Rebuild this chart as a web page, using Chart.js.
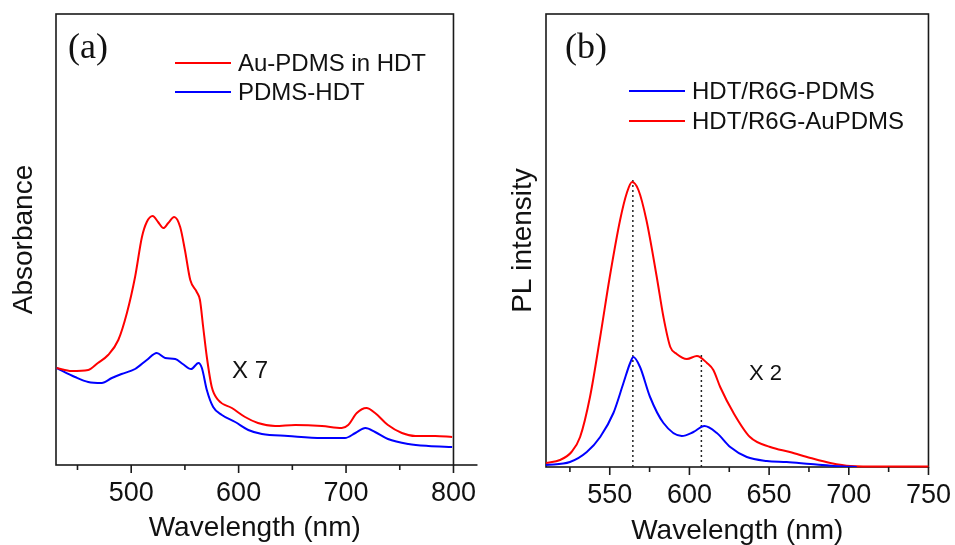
<!DOCTYPE html>
<html><head><meta charset="utf-8">
<script src="https://cdn.jsdelivr.net/npm/chart.js@4.4.1/dist/chart.umd.min.js"></script>
<style>
html,body{margin:0;padding:0;background:#fff;width:955px;height:545px;overflow:hidden}
#ca{position:absolute;left:0;top:0}
#cb{position:absolute;left:480px;top:0}
</style></head><body>
<canvas id="ca" width="488" height="545"></canvas>
<canvas id="cb" width="483" height="545"></canvas>
<script>
// ---------- Panel (a): absorbance (arbitrary units) ----------
const wlA_red = [430.6,444.6,460,469,478.5,488,496,503.6,510,514.5,520,525,530,534.5,540,545.6,550,555,561,564,567,570.4,575,581,593.7,606,618,634,652.7,677.6,696,702,710,719,727,739,752,764.6,783,798.8];
const absA_red = [97,94,95,102,110,125,152,188,228,243,249,243,237,242,248,238,215,185,173,165,138,108,78,65,57,48,42,39,40,39,37,40,52,57,52,40,32,29,29,28];
const wlA_blue = [430.6,447.7,460,472.6,482,491,503.6,514.5,523.8,531.6,541,548,555.8,562.6,565.8,570.4,576.3,584.4,596.8,609,621.7,646,677.6,699,708.7,718,727,739,758,776.7,798.8];
const absA_blue = [97,88,83,82,87,91,96,105,112,107,106,101,96,102,97,75,58,50,43,35,31,29,27,27,32,37,33,26,21,19,18];
const xMajorA = [500,600,700,800];
const xMinorA = [450,550,650,750];
const seriesA = ['Au-PDMS in HDT','PDMS-HDT'];

// ---------- Panel (b): PL intensity (arbitrary units) ----------
const wlB_blue = [510,525,535.6,544,552.3,558.6,562.8,564.8,569,575.3,583.7,595.2,602.5,609.4,617.2,625.6,636,648.6,661,676,696.6,705];
const plB_blue = [2,5,15,30,54,84,104,110,100,70,44,31,35,41,34,20,10,6,5,3,0.5,0];
const wlB_red = [510,518.8,526,531.4,537.6,544,550,556.5,560.7,564,568,573,579.5,583.7,588,592,598.4,604.7,611,615,619.3,627.7,638,650.7,663,676,688.4,701,720,750,767];
const plB_red = [4,7,15,30,70,130,190,247,274,285,277,247,190,150,120,113,108,111,104,97,80,54,30,20,15,9,4,1,0.5,0.5,0.5];
const peakLinesB = [564.5,607.5];
const peakLineTopsB = [290,114];
const xMajorB = [550,600,650,700,750];
const xMinorB = [525,575,625,675,725];
const seriesB = ['HDT/R6G-PDMS','HDT/R6G-AuPDMS'];

const SANS = "'Liberation Sans', Arial, sans-serif";
const SERIF = "'Liberation Serif', 'Times New Roman', serif";
const RED = '#ff0000', BLUE = '#0000ff', INK = '#111111';

const pts = (xs, ys) => xs.map((x, i) => ({x, y: ys[i]}));

function decor(cfg) {
  return {
    id: 'decor',
    beforeDatasetsDraw(chart) {
      const {ctx, chartArea: a} = chart;
      ctx.save();
      ctx.strokeStyle = '#1a1a1a';
      ctx.lineWidth = 1.6;
      ctx.strokeRect(a.left, a.top, a.right - a.left, a.bottom - a.top);
      if (cfg.extend) {
        ctx.beginPath(); ctx.moveTo(a.right, a.bottom); ctx.lineTo(a.right + cfg.extend, a.bottom); ctx.stroke();
      }
      ctx.restore();
    },
    afterDraw(chart) {
      const {ctx, chartArea: a, scales} = chart;
      const xs = scales.x;
      ctx.save();
      ctx.strokeStyle = '#1a1a1a';
      ctx.lineWidth = 1.6;
      cfg.major.forEach(v => { const p = xs.getPixelForValue(v); ctx.beginPath(); ctx.moveTo(p, a.bottom); ctx.lineTo(p, a.bottom + 8); ctx.stroke(); });
      cfg.minor.forEach(v => { const p = xs.getPixelForValue(v); ctx.beginPath(); ctx.moveTo(p, a.bottom); ctx.lineTo(p, a.bottom + 5); ctx.stroke(); });
      // legend
      cfg.legend.forEach((it, i) => {
        const y = cfg.legY[i];
        ctx.strokeStyle = it.color; ctx.lineWidth = 2;
        ctx.beginPath(); ctx.moveTo(cfg.legX0, y); ctx.lineTo(cfg.legX1, y); ctx.stroke();
        ctx.fillStyle = INK; ctx.font = '24px ' + SANS; ctx.textBaseline = 'middle'; ctx.textAlign = 'left';
        ctx.fillText(it.label, cfg.legX1 + 7, y + 1);
      });
      // panel label
      ctx.fillStyle = INK; ctx.textBaseline = 'alphabetic';
      ctx.font = '36px ' + SERIF;
      ctx.fillText(cfg.panel, cfg.panelX, 58);
      ctx.font = cfg.noteSize + 'px ' + SANS;
      ctx.fillText(cfg.note, cfg.noteX, cfg.noteY);
      ctx.restore();
    }
  };
}

function axisX(min, max, major, minor, h, titlePad) {
  const all = major.concat(minor).sort((p, q) => p - q);
  return {
    type: 'linear', min, max,
    afterBuildTicks(s) { s.ticks = all.map(v => ({value: v})); },
    afterFit(s) { s.height = h; },
    ticks: {autoSkip: false, maxRotation: 0, padding: 12, color: INK,
      font: {family: SANS, size: 27, lineHeight: 1.2},
      callback: v => major.includes(v) ? String(v) : ''},
    grid: {display: false, drawTicks: false},
    border: {display: false},
    title: {display: true, text: 'Wavelength (nm)', color: INK,
      font: {family: SANS, size: 28, lineHeight: 1}, padding: {top: 0, bottom: titlePad}}
  };
}
function axisY(max, w, text, pad) {
  return {
    min: 0, max,
    afterFit(s) { s.width = w; },
    ticks: {display: false},
    grid: {display: false, drawTicks: false},
    border: {display: false},
    title: {display: true, text, color: INK, font: {family: SANS, size: 28, lineHeight: 1.2}, padding: {top: pad, bottom: 0}}
  };
}
const lineDs = (label, data, color, extra) => Object.assign({
  label, data, borderColor: color, borderWidth: 2, pointRadius: 0,
  cubicInterpolationMode: 'monotone', fill: false
}, extra || {});

new Chart(document.getElementById('ca'), {
  type: 'line',
  data: {datasets: [
    lineDs(seriesA[0], pts(wlA_red, absA_red), RED),
    lineDs(seriesA[1], pts(wlA_blue, absA_blue), BLUE)
  ]},
  options: {
    responsive: false, animation: false, devicePixelRatio: 1, events: [],
    layout: {padding: {top: 14, right: 27, left: 0, bottom: 0}},
    scales: {x: axisX(430, 800, xMajorA, xMinorA, 80, 3), y: axisY(451, 56, 'Absorbance', 7)},
    plugins: {legend: {display: false}, tooltip: {enabled: false}}
  },
  plugins: [decor({major: xMajorA, minor: xMinorA, extend: 24,
    legend: [{label: seriesA[0], color: RED}, {label: seriesA[1], color: BLUE}],
    legX0: 175, legX1: 231, legY: [63, 92], panel: '(a)', panelX: 68,
    note: 'X 7', noteSize: 24, noteX: 232, noteY: 378})]
});

const peakDs = peakLinesB.map((w, i) => ({
  label: 'peak' + i, data: [{x: w, y: 0}, {x: w, y: peakLineTopsB[i]}],
  borderColor: '#222', borderWidth: 1.5, borderDash: [2, 3], pointRadius: 0, tension: 0
}));
new Chart(document.getElementById('cb'), {
  type: 'line',
  data: {datasets: [
    lineDs(seriesB[0], pts(wlB_blue, plB_blue), BLUE),
    lineDs(seriesB[1], pts(wlB_red, plB_red), RED, {clip: false})
  ].concat(peakDs)},
  options: {
    responsive: false, animation: false, devicePixelRatio: 1, events: [],
    layout: {padding: {top: 14, right: 27, left: 0, bottom: 0}},
    scales: {x: axisX(510, 750, xMajorB, xMinorB, 78, 0), y: axisY(453, 66, 'PL intensity', 26)},
    plugins: {legend: {display: false}, tooltip: {enabled: false}}
  },
  plugins: [decor({major: xMajorB, minor: xMinorB, extend: 0,
    legend: [{label: seriesB[0], color: BLUE}, {label: seriesB[1], color: RED}],
    legX0: 629 - 480, legX1: 685 - 480, legY: [91, 121], panel: '(b)', panelX: 565 - 480,
    note: 'X 2', noteSize: 22, noteX: 749 - 480, noteY: 380})]
});
</script>
</body></html>
